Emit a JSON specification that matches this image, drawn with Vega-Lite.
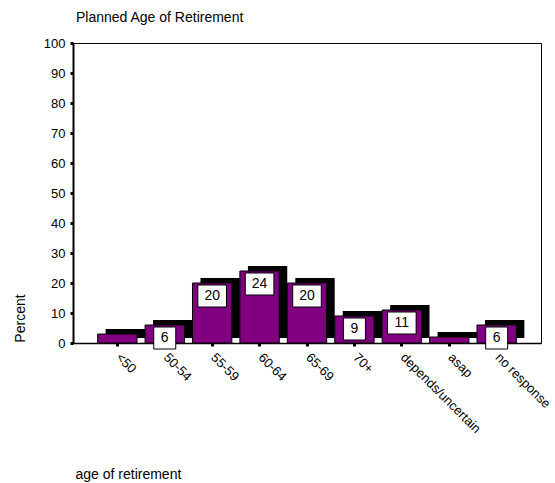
{
  "$schema": "https://vega.github.io/schema/vega-lite/v6.json",
  "width": 468,
  "height": 300,
  "autosize": "none",
  "padding": {"left": 73, "top": 43, "right": 14, "bottom": 140},
  "background": "white",
  "title": {"text": "Planned Age of Retirement", "anchor": "start", "frame": "group", "fontSize": 14, "fontWeight": "normal", "font": "Liberation Sans", "color": "black", "offset": 12, "dx": 3},
  "config": {"font": "Liberation Sans", "view": {"stroke": "black", "strokeWidth": 1}},
  "data": {"values": [
    {"age": "<50", "pct": 3},
    {"age": "50-54", "pct": 6},
    {"age": "55-59", "pct": 20},
    {"age": "60-64", "pct": 24},
    {"age": "65-69", "pct": 20},
    {"age": "70+", "pct": 9},
    {"age": "depends/uncertain", "pct": 11},
    {"age": "asap", "pct": 2},
    {"age": "no response", "pct": 6}
  ]},
  "encoding": {
    "x": {"field": "age", "type": "nominal", "sort": null,
      "scale": {"paddingInner": 0.17, "paddingOuter": 0.52},
      "axis": {"title": "age of retirement", "titleFontSize": 14, "titleFontWeight": "normal", "titleColor": "black",
        "titleX": 2, "titleY": 135, "titleAlign": "left", "titleAnchor": null, "titleBaseline": "alphabetic",
        "labelAngle": 45, "labelAlign": "left", "labelBaseline": "middle", "labelPadding": 9, "labelOffset": 1, "labelFontSize": 13, "labelColor": "black",
        "domainColor": "black", "domainWidth": 1.5, "tickColor": "black", "tickSize": 3, "tickWidth": 3, "labelOverlap": false}},
    "y": {"field": "pct", "type": "quantitative",
      "scale": {"domain": [0, 100], "nice": false},
      "axis": {"title": "Percent", "titleFontSize": 14, "titleFontWeight": "normal", "titleColor": "black",
        "titleX": -53, "titleY": 275, "titleAngle": -90, "titleAlign": "center", "titleBaseline": "middle", "titleAnchor": null,
        "values": [0, 10, 20, 30, 40, 50, 60, 70, 80, 90, 100], "grid": false,
        "labelFontSize": 13, "labelColor": "black", "labelPadding": 5,
        "domainColor": "black", "domainWidth": 2, "tickColor": "black", "tickSize": 3, "tickWidth": 3}}
  },
  "layer": [
    {"mark": {"type": "bar", "color": "black", "xOffset": 8, "yOffset": -5}},
    {"mark": {"type": "bar", "color": "#800080", "stroke": "black", "strokeWidth": 1}},
    {"transform": [{"filter": "datum.pct >= 5"}],
     "mark": {"type": "point", "filled": true, "fill": "white", "stroke": "black", "strokeWidth": 1, "opacity": 1, "size": 484, "yOffset": 13},
     "encoding": {"shape": {"condition": {"test": "datum.pct < 10", "value": "M-1,-1L1,-1L1,1L-1,1Z"}, "value": "M-1.3,-1L1.3,-1L1.3,1L-1.3,1Z"}}},
    {"transform": [{"filter": "datum.pct >= 5"}],
     "mark": {"type": "text", "fontSize": 14, "color": "black", "baseline": "middle", "align": "center", "yOffset": 13},
     "encoding": {"text": {"field": "pct", "type": "quantitative"}}}
  ]
}
